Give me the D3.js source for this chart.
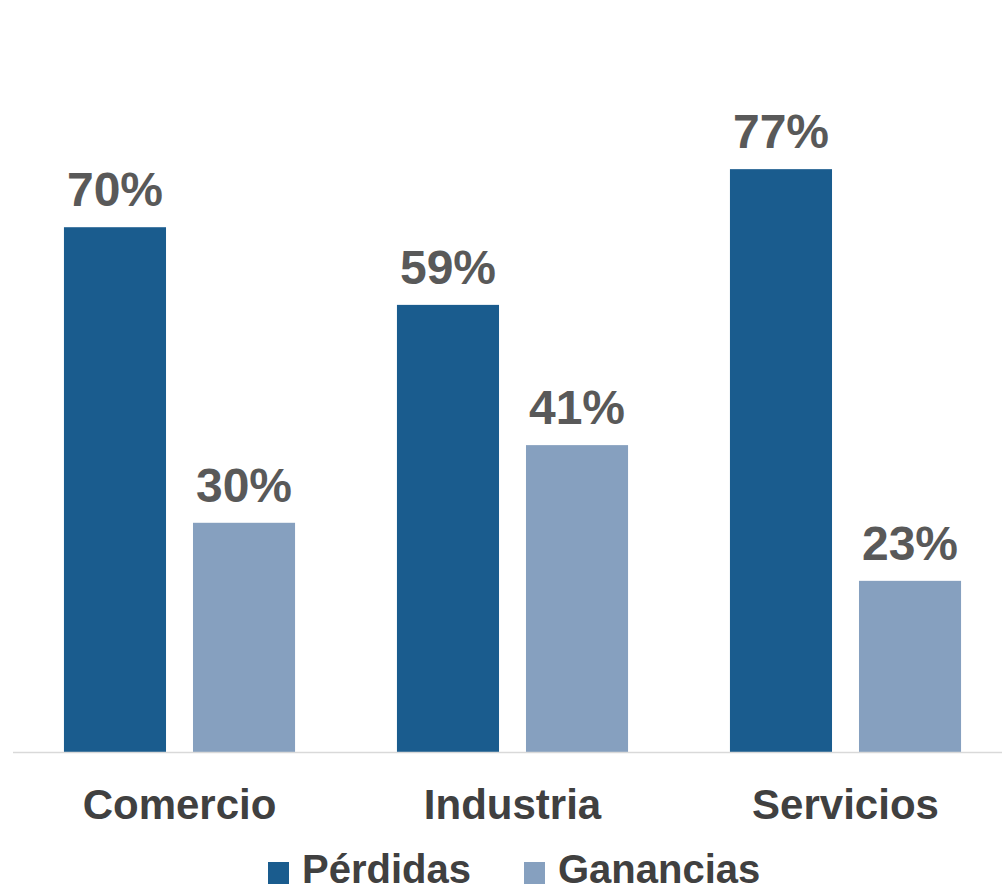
<!DOCTYPE html>
<html>
<head>
<meta charset="utf-8">
<script src="https://cdn.jsdelivr.net/npm/d3@7"></script>
<style>
  body { margin: 0; background: #fff; }
  svg { display: block; font-family: "Liberation Sans", Arial, sans-serif; font-weight: bold; }
</style>
</head>
<body>
<svg id="chart" width="1002" height="892"></svg>
<script>
// data
var categories = ["Comercio", "Industria", "Servicios"];
var series = ["Pérdidas", "Ganancias"];
var perdidas = [69.6, 59.3, 77.3];
var ganancias = [30.4, 40.7, 22.7];
var colors = ["#1a5c8e", "#86a0bf"];

var rows = categories.map(function(c, i) {
  return { cat: c, values: [perdidas[i], ganancias[i]] };
});

var svg = d3.select("#chart");
var baseY = 752;

var x = d3.scaleBand()
  .domain(categories)
  .range([13, 1012])
  .paddingInner(0.306)
  .paddingOuter(0.153);

var x1 = d3.scaleBand()
  .domain(series)
  .range([0, x.bandwidth()])
  .paddingInner(0.209);

var y = d3.scaleLinear()
  .domain([0, 100])
  .range([baseY, baseY - 754]);

var fmt = function(v) { return Math.round(v) + "%"; };

var groups = svg.selectAll(".grp")
  .data(rows)
  .enter().append("g")
    .attr("class", "grp")
    .attr("transform", function(d) { return "translate(" + x(d.cat) + ",0)"; });

var bars = groups.selectAll(".bar")
  .data(function(d) { return d.values.map(function(v, i) { return { s: series[i], v: v, i: i }; }); })
  .enter();

bars.append("rect")
  .attr("x", function(d) { return x1(d.s); })
  .attr("y", function(d) { return y(d.v); })
  .attr("width", x1.bandwidth())
  .attr("height", function(d) { return baseY - y(d.v); })
  .attr("fill", function(d) { return colors[d.i]; });

bars.append("text")
  .attr("x", function(d) { return x1(d.s) + x1.bandwidth() / 2; })
  .attr("y", function(d) { return y(d.v) - 21; })
  .attr("text-anchor", "middle")
  .attr("font-size", 48)
  .attr("fill", "#595959")
  .text(function(d) { return fmt(d.v); });

// baseline
svg.append("line")
  .attr("x1", 13).attr("x2", 1002)
  .attr("y1", baseY + 0.5).attr("y2", baseY + 0.5)
  .attr("stroke", "#d9d9d9")
  .attr("stroke-width", 1.5);

// category axis
var xAxis = d3.axisBottom(x).tickSize(0).tickPadding(0);
var ax = svg.append("g")
  .attr("transform", "translate(0," + baseY + ")")
  .call(xAxis);
ax.select(".domain").remove();
ax.selectAll("text")
  .attr("dy", null)
  .attr("y", 67)
  .attr("font-size", 42)
  .attr("font-family", "'Liberation Sans', Arial, sans-serif")
  .attr("font-weight", "bold")
  .attr("fill", "#404040");

// legend
var legX = [268, 524];
var leg = svg.selectAll(".leg")
  .data(series)
  .enter().append("g")
    .attr("class", "leg")
    .attr("transform", function(d, i) { return "translate(" + legX[i] + ",862)"; });

leg.append("rect")
  .attr("width", 21).attr("height", 22)
  .attr("fill", function(d, i) { return colors[i]; });

leg.append("text")
  .attr("x", 34)
  .attr("y", 21)
  .attr("font-size", 40)
  .attr("fill", "#404040")
  .text(function(d) { return d; });
</script>
</body>
</html>
